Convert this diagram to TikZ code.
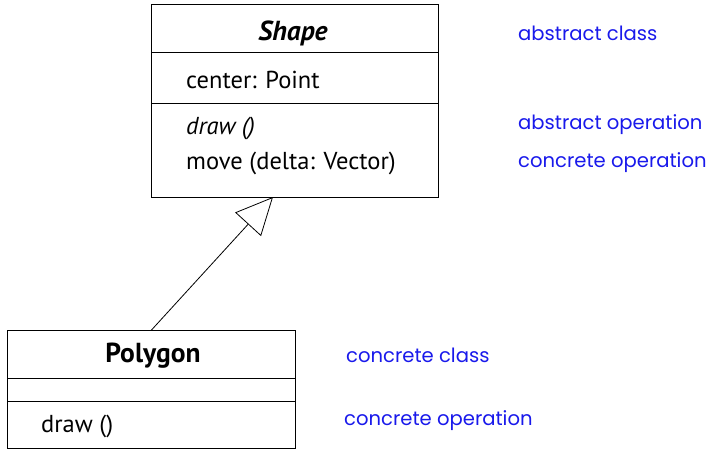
\documentclass[tikz,border=0pt]{standalone}
\usepackage{fontspec}
\setmainfont{PT Sans}
\newfontfamily\notefont{Poppins}
\usetikzlibrary{arrows.meta}
\definecolor{noteblue}{RGB}{25,25,235}
\tikzset{
  umlbox/.style={draw, line width=1pt, inner sep=0pt, anchor=north west},
  divider/.style={line width=1pt},
  member/.style={anchor=west, inner sep=0pt, font=\fontsize{24.5}{28}\selectfont},
  title/.style={inner sep=0pt, font=\fontsize{27.5}{31}\selectfont\bfseries},
  note/.style={anchor=west, inner sep=0pt, text=noteblue, font=\notefont\fontsize{19.6}{23}\selectfont},
  inherit/.style={line width=0.8pt, -{Triangle[open, length=37pt, width=35pt, line width=0.8pt]}}
}
\begin{document}
\begin{tikzpicture}[x=1pt, y=-1pt]
\useasboundingbox (0,0) rectangle (707,451);
% Shape class
\node[umlbox, minimum width=287pt, minimum height=193pt] (shape) at (151,4) {};
\draw[divider] (shape.west |- 0,52) coordinate (sd1a) -- (shape.east |- 0,52) coordinate (sd1b);
\draw[divider] (shape.west |- 0,103) coordinate (sd2a) -- (shape.east |- 0,103) coordinate (sd2b);
\node[title, font=\fontsize{27.5}{31}\selectfont\bfseries\itshape] (shapetitle) at (293,33) {Shape};
\node[member] (attr) at (186,80) {center: Point};
\node[member] (op1) at (186,128) {\itshape draw ()};
\node[member] (op2) at (186,163) {move (delta: Vector)};
% Polygon class
\node[umlbox, minimum width=288pt, minimum height=118pt] (poly) at (7,330) {};
\draw[divider] (poly.west |- 0,378) coordinate (pd1a) -- (poly.east |- 0,378) coordinate (pd1b);
\draw[divider] (poly.west |- 0,401) coordinate (pd2a) -- (poly.east |- 0,401) coordinate (pd2b);
\node[title] (polytitle) at (153,356) {Polygon};
\node[member] (pop) at (41,426) {draw ()};
% generalization
\coordinate (shapebot) at (273,197);
\draw[inherit] (poly.north) -- (shapebot);
% notes
\node[note] (n1) at (518,33) {abstract class};
\node[note] (n2) at (518,125) {abstract operation};
\node[note] (n3) at (518,163) {concrete operation};
\node[note] (n4) at (346,355) {concrete class};
\node[note] (n5) at (344,421) {concrete operation};
\end{tikzpicture}
\end{document}
